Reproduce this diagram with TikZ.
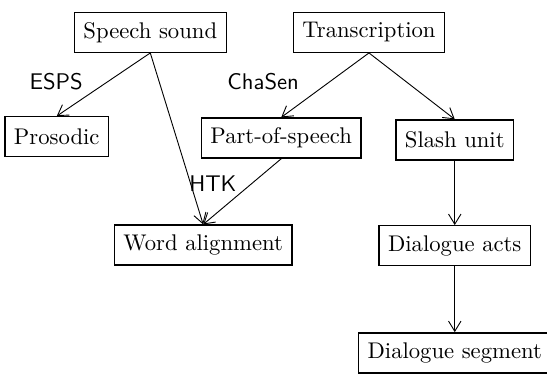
\documentclass[tikz,border=0pt]{standalone}
\usepackage{tikz}
\usetikzlibrary{arrows.meta,positioning}
\tikzset{
	box/.style={draw, line width=0.6pt, minimum height=0.62cm, inner xsep=4pt},
	tool/.style={font=\sffamily}
}

\begin{document}
\begin{tikzpicture}[->,>={Straight Barb[length=4.5pt,width=5.5pt]},thin]
	\useasboundingbox (0,0) rectangle (8.48,-5.80);
	\node[box] (ss) at (2.33, -0.50) {Speech sound};
	\node[box] (tr) at (5.72, -0.50) {Transcription};
	\node[box] (pr) at (0.88, -2.12) {Prosodic};
	\node[box] (pos) at (4.36, -2.14) {Part-of-speech};
	\node[box] (sl) at (7.05, -2.17) {Slash unit};
	\node[box] (wa) at (3.15, -3.80) {Word alignment};
	\node[box] (da) at (7.05, -3.81) {Dialogue acts};
	\node[box] (ds) at (7.05, -5.47) {Dialogue segment};
	% tools
	\node[tool] (esps) at (0.87, -1.27) {ESPS};
	\node[tool] (chasen) at (4.08, -1.27) {ChaSen};
	\node[tool] (htk) at (3.30, -2.84) {HTK};
	\path (ss.south) edge (pr.north);
	\path (ss.south) edge (wa.north);
	\path (pos.south) edge (wa.north);
	\path (tr.south) edge (pos.north);
	\path (tr.south) edge (sl.north);
	\path (sl.south) edge (da.north);
	\path (da.south) edge (ds.north);
\end{tikzpicture}
\end{document}
